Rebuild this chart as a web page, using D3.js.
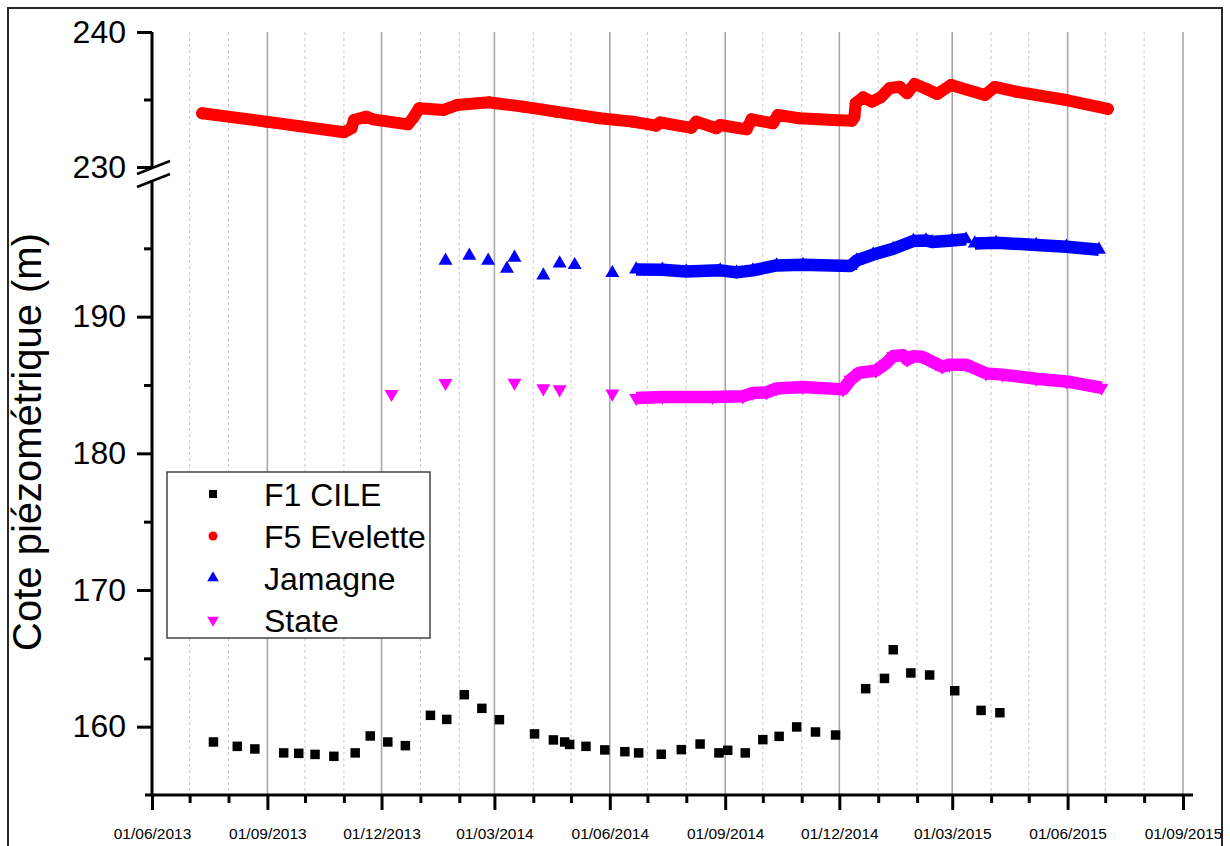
<!DOCTYPE html>
<html><head><meta charset="utf-8">
<script src="https://cdn.jsdelivr.net/npm/d3@7"></script>
<style>
html,body{margin:0;padding:0;background:#fff;}
svg{display:block;font-family:Arial,"Liberation Sans",Helvetica,sans-serif;}
</style>
</head><body>
<svg id="chart" width="1230" height="846"></svg>
<script>
// ---------------- DATA ----------------
const seriesNames = ["F1 CILE", "F5 Evelette", "Jamagne", "State"];
const seriesColors = ["#000000", "#ff0000", "#0000ff", "#ff00ff"];

const xMajorTicks = ["2013-06-01","2013-09-01","2013-12-01","2014-03-01","2014-06-01",
  "2014-09-01","2014-12-01","2015-03-01","2015-06-01","2015-09-01"];
const xDomain = ["2013-06-01","2015-09-01"];
const yUpperTicks = [230, 240];
const yUpperMinor = [235];
const yLowerTicks = [160, 170, 180, 190];
const yLowerMinor = [165, 175, 185, 195];
const yUpperDomain = [230, 240];
const yLowerDomain = [155, 200];
const yLabel = "Cote piézométrique (m)";

// F1 CILE (manual readings)
const f1Cile = [
  ["2013-07-20",158.88],["2013-08-08",158.56],["2013-08-22",158.37],["2013-09-14",158.08],
  ["2013-09-26",158.05],["2013-10-09",157.97],["2013-10-24",157.83],["2013-11-10",158.08],
  ["2013-11-22",159.32],["2013-12-06",158.88],["2013-12-20",158.61],["2014-01-09",160.83],
  ["2014-01-22",160.53],["2014-02-05",162.34],["2014-02-19",161.34],["2014-03-05",160.51],
  ["2014-04-02",159.47],["2014-04-17",159.03],["2014-04-26",158.88],["2014-04-30",158.70],
  ["2014-05-13",158.56],["2014-05-28",158.30],["2014-06-13",158.17],["2014-06-24",158.08],
  ["2014-07-12",157.98],["2014-07-28",158.32],["2014-08-12",158.73],["2014-08-27",158.08],
  ["2014-09-03",158.27],["2014-09-17",158.08],["2014-10-01",159.05],["2014-10-14",159.29],
  ["2014-10-28",159.98],["2014-11-12",159.61],["2014-11-28",159.39],["2014-12-22",162.78],
  ["2015-01-06",163.53],["2015-01-13",165.63],["2015-01-27",163.93],["2015-02-11",163.78],
  ["2015-03-03",162.63],["2015-03-24",161.19],["2015-04-08",161.02]
];

// F5 Evelette (logger, dense)
const f5Evelette = [
  ["2013-07-11",233.98],["2013-08-31",233.36],["2013-11-01",232.57],["2013-11-07",232.87],
  ["2013-11-09",233.48],["2013-11-19",233.73],["2013-11-24",233.53],["2013-12-22",233.16],
  ["2013-12-26",233.61],["2013-12-31",234.35],["2014-01-19",234.22],["2014-01-30",234.59],
  ["2014-02-25",234.79],["2014-03-02",234.72],["2014-03-24",234.47],["2014-04-19",234.10],
  ["2014-05-24",233.61],["2014-06-19",233.36],["2014-07-08",233.06],["2014-07-11",233.30],
  ["2014-08-05",232.90],["2014-08-09",233.36],["2014-08-25",232.87],["2014-08-28",233.11],
  ["2014-09-18",232.79],["2014-09-22",233.53],["2014-10-09",233.24],["2014-10-13",233.85],
  ["2014-10-30",233.61],["2014-11-26",233.48],["2014-12-11",233.43],["2014-12-13",233.70],
  ["2014-12-14",234.72],["2014-12-20",235.16],["2014-12-27",234.84],["2015-01-03",235.16],
  ["2015-01-10",235.83],["2015-01-18",235.95],["2015-01-24",235.46],["2015-01-30",236.15],
  ["2015-02-09",235.76],["2015-02-17",235.41],["2015-02-28",236.07],["2015-03-27",235.33],
  ["2015-04-04",235.93],["2015-04-21",235.58],["2015-05-31",234.96],["2015-07-03",234.30]
];

// Jamagne
const jamagneManual = [
  ["2014-01-21",194.10],["2014-02-09",194.46],["2014-02-24",194.10],["2014-03-11",193.51],
  ["2014-03-17",194.32],["2014-04-09",193.02],["2014-04-22",193.90],["2014-05-04",193.78],
  ["2014-06-03",193.19]
];
const jamagneLogger = [
  ["2014-06-22",193.46],["2014-07-13",193.44],["2014-08-01",193.31],["2014-08-28",193.39],
  ["2014-09-10",193.24],["2014-09-23",193.39],["2014-10-12",193.75],["2014-11-02",193.80],
  ["2014-12-10",193.71],["2014-12-15",194.12],["2014-12-28",194.54],["2015-01-13",194.97],
  ["2015-01-29",195.54],["2015-02-08",195.58],["2015-02-13",195.46],["2015-03-01",195.58],
  ["2015-03-12",195.66],["2015-03-15",null],["2015-03-19",195.36],["2015-04-05",195.41],
  ["2015-05-07",195.25],["2015-05-31",195.12],["2015-06-26",194.90]
];

// State
const stateManual = [
  ["2013-12-09",184.34],["2014-01-21",185.15],["2014-03-17",185.17],["2014-04-09",184.75],
  ["2014-04-22",184.68],["2014-06-03",184.37]
];
const stateLogger = [
  ["2014-06-22",184.05],["2014-07-13",184.12],["2014-08-22",184.12],["2014-09-15",184.17],
  ["2014-09-23",184.42],["2014-10-04",184.46],["2014-10-12",184.75],["2014-11-02",184.86],
  ["2014-12-04",184.68],["2014-12-10",185.39],["2014-12-17",185.90],["2014-12-30",186.05],
  ["2015-01-07",186.56],["2015-01-13",187.12],["2015-01-21",187.17],["2015-01-24",186.85],
  ["2015-01-29",187.10],["2015-02-05",187.07],["2015-02-16",186.56],["2015-02-21",186.34],
  ["2015-02-27",186.49],["2015-03-12",186.49],["2015-03-28",185.85],["2015-04-10",185.76],
  ["2015-05-07",185.46],["2015-05-31",185.26],["2015-06-28",184.80]
];

// ---------------- CHART ----------------
const svg = d3.select("#chart");
const parse = d3.utcParse("%Y-%m-%d");
const fmt = d3.utcFormat("%d/%m/%Y");

const x = d3.scaleUtc().domain(xDomain.map(parse)).range([152, 1183]);
const yUp = d3.scaleLinear().domain(yUpperDomain).range([167, 32]);
const yLow = d3.scaleLinear().domain(yLowerDomain).range([795, 180]);
const yTop = yUp.range()[1], yBottom = yLow.range()[0];

// outer frame
svg.append("rect").attr("x", 8).attr("y", 8).attr("width", 1214).attr("height", 860)
  .attr("fill", "#fff").attr("stroke", "#2a2a2a").attr("stroke-width", 2);

// gridlines
const majorDates = xMajorTicks.map(parse);
const allMonths = d3.utcMonth.range(parse(xDomain[0]), d3.utcDay.offset(parse(xDomain[1]), 1));
const minorDates = allMonths.filter(d => !majorDates.some(m => +m === +d));
const grid = svg.append("g");
grid.selectAll("line.minor").data(minorDates).join("line")
  .attr("x1", d => x(d)).attr("x2", d => x(d)).attr("y1", yTop).attr("y2", yBottom)
  .attr("stroke", "#c8c8c8").attr("stroke-width", 1).attr("stroke-dasharray", "3,3");
grid.selectAll("line.major").data(majorDates.slice(1)).join("line")
  .attr("x1", d => x(d)).attr("x2", d => x(d)).attr("y1", yTop).attr("y2", yBottom)
  .attr("stroke", "#a8a8a8").attr("stroke-width", 1.6);

// series
const toPts = (arr) => arr.map(([d, v]) => ({d: parse(d), v}));

// F5 Evelette : dense circles -> thick round line + circles
const f5 = toPts(f5Evelette);
const lineUp = d3.line().x(p => x(p.d)).y(p => yUp(p.v));
svg.append("path").datum(f5).attr("d", lineUp).attr("fill", "none")
  .attr("stroke", seriesColors[1]).attr("stroke-width", 12)
  .attr("stroke-linecap", "round").attr("stroke-linejoin", "round");
svg.append("g").selectAll("circle").data(f5).join("circle")
  .attr("cx", p => x(p.d)).attr("cy", p => yUp(p.v)).attr("r", 6).attr("fill", seriesColors[1]);

const lineLow = d3.line().defined(p => p.v != null).x(p => x(p.d)).y(p => yLow(p.v));
const triUp = d3.symbol().type(d3.symbolTriangle).size(85);

function loggerBand(data, color, down) {
  const pts = toPts(data);
  svg.append("path").datum(pts).attr("d", lineLow).attr("fill", "none")
    .attr("stroke", color).attr("stroke-width", 12.5).attr("stroke-linejoin", "round");
  svg.append("g").selectAll("path").data(pts.filter(p => p.v != null)).join("path")
    .attr("d", triUp)
    .attr("transform", p => `translate(${x(p.d)},${yLow(p.v)})${down ? " rotate(180)" : ""}`)
    .attr("fill", color);
}
loggerBand(jamagneLogger, seriesColors[2], false);
loggerBand(stateLogger, seriesColors[3], true);

function manualTri(data, color, down) {
  svg.append("g").selectAll("path").data(toPts(data)).join("path")
    .attr("d", triUp)
    .attr("transform", p => `translate(${x(p.d)},${yLow(p.v)})${down ? " rotate(180)" : ""}`)
    .attr("fill", color);
}
manualTri(jamagneManual, seriesColors[2], false);
manualTri(stateManual, seriesColors[3], true);

const sq = d3.symbol().type(d3.symbolSquare).size(90);
svg.append("g").selectAll("path").data(toPts(f1Cile)).join("path")
  .attr("d", sq).attr("transform", p => `translate(${x(p.d)},${yLow(p.v)})`)
  .attr("fill", seriesColors[0]);

// legend
const lg = svg.append("g");
lg.append("rect").attr("x", 167).attr("y", 472).attr("width", 263).attr("height", 166)
  .attr("fill", "#fff").attr("stroke", "#444").attr("stroke-width", 1.5);
const legSyms = [
  d3.symbol().type(d3.symbolSquare).size(64)(),
  d3.symbol().type(d3.symbolCircle).size(64)(),
  d3.symbol().type(d3.symbolTriangle).size(58)(),
  d3.symbol().type(d3.symbolTriangle).size(58)()
];
seriesNames.forEach((name, i) => {
  const cy = 494 + i * 42;
  lg.append("path").attr("d", legSyms[i])
    .attr("transform", `translate(213,${cy})${i === 3 ? " rotate(180)" : ""}`)
    .attr("fill", seriesColors[i]);
  lg.append("text").attr("x", 264).attr("y", cy).attr("dy", "0.36em")
    .attr("font-size", 32).attr("fill", "#000").text(name);
});

// axes
const axisW = 3;
function styleAxis(g) {
  g.select(".domain").remove();
  g.selectAll(".tick line").attr("stroke", "#000").attr("stroke-width", axisW);
  g.selectAll(".tick text").attr("fill", "#000");
}
// x axis
svg.append("g").attr("transform", `translate(0,${yBottom})`)
  .call(d3.axisBottom(x).tickValues(minorDates).tickSize(8).tickFormat(""))
  .call(styleAxis);
svg.append("g").attr("transform", `translate(0,${yBottom})`)
  .call(d3.axisBottom(x).tickValues(majorDates).tickSize(15).tickPadding(18).tickFormat(fmt))
  .call(styleAxis)
  .call(g => g.selectAll(".tick text").attr("font-size", 15.5).attr("font-family", "Arial, 'Liberation Sans', sans-serif"));
svg.append("line").attr("x1", 145).attr("x2", 1193).attr("y1", yBottom).attr("y2", yBottom)
  .attr("stroke", "#000").attr("stroke-width", axisW);

// y axes (broken)
function yAxis(scale, major, minor) {
  svg.append("g").attr("transform", "translate(152,0)")
    .call(d3.axisLeft(scale).tickValues(minor).tickSize(8).tickFormat(""))
    .call(styleAxis);
  svg.append("g").attr("transform", "translate(152,0)")
    .call(d3.axisLeft(scale).tickValues(major).tickSize(15).tickPadding(11).tickFormat(d3.format("d")))
    .call(styleAxis)
    .call(g => g.selectAll(".tick text").attr("font-size", 32).attr("font-family", "Arial, 'Liberation Sans', sans-serif"));
  svg.append("line").attr("x1", 152).attr("x2", 152)
    .attr("y1", scale.range()[0]).attr("y2", scale.range()[1])
    .attr("stroke", "#000").attr("stroke-width", axisW);
}
yAxis(yUp, yUpperTicks, yUpperMinor);
yAxis(yLow, yLowerTicks, yLowerMinor);

// break marks
const bTop = yUp.range()[0], bBot = yLow.range()[1];
[bTop + 1, bBot + 1].forEach(yy => {
  svg.append("line").attr("x1", 137).attr("y1", yy + 6).attr("x2", 170).attr("y2", yy - 7)
    .attr("stroke", "#000").attr("stroke-width", 2.5);
});

// y label
svg.append("text").attr("transform", "translate(41,442) rotate(-90)")
  .attr("text-anchor", "middle").attr("font-size", 40).attr("fill", "#000").text(yLabel);
</script>
</body></html>
